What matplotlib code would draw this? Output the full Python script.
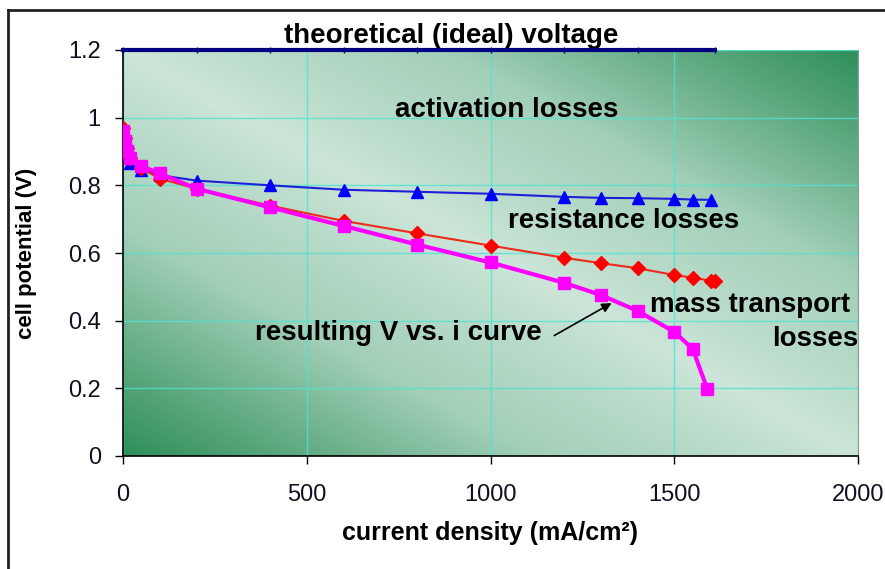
import numpy as np
import matplotlib.pyplot as plt
from matplotlib.colors import LinearSegmentedColormap
from matplotlib.lines import Line2D

plt.rcParams['font.family'] = ['Liberation Sans', 'DejaVu Sans']

# data
i_act = [1, 5, 10, 20, 50, 100, 200, 400, 600, 800, 1000, 1200, 1300, 1400, 1500, 1550, 1600]
v_act = [0.95, 0.91, 0.89, 0.865, 0.845, 0.83, 0.814, 0.80, 0.787, 0.781, 0.775,
         0.766, 0.763, 0.762, 0.76, 0.758, 0.757]

i_res = [1, 5, 10, 20, 50, 100, 200, 400, 600, 800, 1000, 1200, 1300, 1400, 1500, 1550, 1600, 1610]
v_res = [0.97, 0.94, 0.91, 0.88, 0.85, 0.82, 0.79, 0.74, 0.695, 0.658, 0.622,
         0.586, 0.57, 0.555, 0.535, 0.527, 0.518, 0.517]

i_tot = [1, 5, 10, 20, 50, 100, 200, 400, 600, 800, 1000, 1200, 1300, 1400, 1500, 1550, 1590]
v_tot = [0.96, 0.93, 0.90, 0.88, 0.857, 0.835, 0.79, 0.735, 0.68, 0.625, 0.572,
         0.512, 0.476, 0.429, 0.367, 0.317, 0.198]

i_ideal = [0, 200, 400, 600, 800, 1000, 1200, 1400, 1610]
v_ideal = [1.2] * len(i_ideal)

xticks = [0, 500, 1000, 1500, 2000]
yticks = [0, 0.2, 0.4, 0.6, 0.8, 1.0, 1.2]
ytick_labels = ['0', '0.2', '0.4', '0.6', '0.8', '1', '1.2']

fig = plt.figure(figsize=(8.85, 5.69), dpi=100)
ax = fig.add_axes([123/885, 1 - 456/569, (858 - 123)/885, (456 - 50)/569])

# diagonal green gradient background
cmap = LinearSegmentedColormap.from_list('bg', ['#cde6d9', '#a2cfb8', '#2f8f5a'])
u, v = np.meshgrid(np.linspace(0, 1, 300), np.linspace(0, 1, 200))
t = np.abs((u + v) / 2 - 0.5) * 2
ax.imshow(t ** 0.85, cmap=cmap, extent=[0, 2000, 0, 1.2], origin='lower',
          aspect='auto', zorder=0, vmin=0, vmax=1)

ax.set_xlim(0, 2000)
ax.set_ylim(0, 1.2)
ax.set_xticks(xticks)
ax.set_yticks(yticks)
ax.set_yticklabels(ytick_labels)
ax.grid(True, color='#4fe3d2', lw=1, alpha=0.8, zorder=1)
ax.tick_params(direction='out', length=6, width=1, labelsize=17, colors='black',
               labelcolor='#101020')
ax.tick_params(axis='x', pad=14)
ax.tick_params(axis='y', pad=10)

ax.spines['top'].set_visible(False)
ax.spines['right'].set_color('#8a9a90')
ax.spines['right'].set_linewidth(0.8)
ax.spines['left'].set_linewidth(1.2)
ax.spines['bottom'].set_linewidth(1.2)

ax.plot(i_ideal, v_ideal, color='#000080', lw=3, marker='|', ms=4, mew=1,
        clip_on=False, zorder=5)
ax.plot(i_act, v_act, color='#1f1fd6', lw=1.5, marker='^', ms=8,
        mfc='#0000ff', mec='#0000ff', zorder=3)
ax.plot(i_res, v_res, color='#ee2a1a', lw=1.5, marker='D', ms=7,
        mfc='#ff0000', mec='#ff0000', zorder=3)
ax.plot(i_tot, v_tot, color='#ff00ff', lw=3, marker='s', ms=8,
        mfc='#ff00ff', mec='#ff00ff', zorder=4)

fs = 20
ax.text(892, 1.24, 'theoretical (ideal) voltage', fontsize=fs, fontweight='bold',
        ha='center', va='center', clip_on=False)
ax.text(1045, 1.024, 'activation losses', fontsize=fs, fontweight='bold',
        ha='center', va='center')
ax.text(1363, 0.695, 'resistance losses', fontsize=fs, fontweight='bold',
        ha='center', va='center')
ax.text(1706, 0.447, 'mass transport', fontsize=fs, fontweight='bold',
        ha='center', va='center')
ax.text(2000, 0.346, 'losses', fontsize=fs, fontweight='bold',
        ha='right', va='center')
ax.text(748, 0.364, 'resulting V vs. i curve', fontsize=fs, fontweight='bold',
        ha='center', va='center')
ax.annotate('', xy=(1336, 0.456), xytext=(1167, 0.352),
            arrowprops=dict(arrowstyle='-|>', color='black', lw=1.2,
                            mutation_scale=14))

ax.set_xlabel('current density (mA/cm²)', fontsize=18, fontweight='bold', labelpad=11)
ax.set_ylabel('cell potential (V)', fontsize=16, fontweight='bold', labelpad=22)

# outer frame (top and left)
fig.add_artist(Line2D([8/885, 1], [1 - 10/569, 1 - 10/569], color='#222222', lw=2))
fig.add_artist(Line2D([8/885, 8/885], [0, 1 - 10/569], color='#222222', lw=2))

fig.savefig('out.png', dpi=100)
